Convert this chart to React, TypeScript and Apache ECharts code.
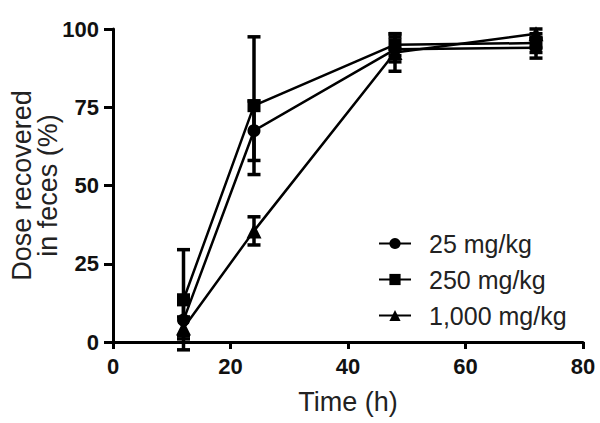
import React, { useEffect, useRef } from "react";
import * as echarts from "echarts";

const timesH = [12, 24, 48, 72];
const seriesNames = ["25 mg/kg", "250 mg/kg", "1,000 mg/kg"];
const dose25Mean = [7, 67.5, 93.5, 94];
const dose25Err = [5, 9.5, 4, 3.3];
const dose250Mean = [13.5, 75.5, 95, 95.5];
const dose250Err = [16, 22, 3.5, 3];
const dose1000Mean = [4.5, 35.5, 92.5, 98.5];
const dose1000Err = [3.5, 4.5, 6, 1.5];
const xTicks = [0, 20, 40, 60, 80];
const yTicks = [0, 25, 50, 75, 100];

const FONT = "'Liberation Sans', Arial, sans-serif";

export default function App() {
  const ref = useRef<HTMLDivElement>(null);
  useEffect(() => {
    if (!ref.current) return;
    const chart = echarts.init(ref.current, null, { renderer: "svg" });
    const means = [dose25Mean, dose250Mean, dose1000Mean];
    const errs = [dose25Err, dose250Err, dose1000Err];
    const symbols = ["circle", "rect", "triangle"];
    const symbolSizes = [13, 13, 15];

    const lineSeries = seriesNames.map((name, i) => ({
      name,
      type: "line",
      data: timesH.map((t, j) => [t, means[i][j]]),
      symbol: symbols[i],
      symbolSize: symbolSizes[i],
      lineStyle: { color: "#000", width: 2.5 },
      itemStyle: { color: "#000", borderColor: "#000", borderWidth: 0 },
      z: 3,
    }));

    const errData: number[][] = [];
    means.forEach((m, i) => {
      timesH.forEach((t, j) => {
        errData.push([t, m[j] - errs[i][j], m[j] + errs[i][j]]);
      });
    });

    const errSeries = {
      type: "custom",
      name: "err",
      data: errData,
      z: 4,
      renderItem: (params: any, api: any) => {
        const x = api.value(0);
        const lo = api.coord([x, api.value(1)]);
        const hi = api.coord([x, api.value(2)]);
        const w = 6.5;
        const style = { stroke: "#000", lineWidth: 3.5 };
        return {
          type: "group",
          children: [
            { type: "line", shape: { x1: lo[0], y1: lo[1], x2: hi[0], y2: hi[1] }, style },
            { type: "line", shape: { x1: lo[0] - w, y1: lo[1], x2: lo[0] + w, y2: lo[1] }, style },
            { type: "line", shape: { x1: hi[0] - w, y1: hi[1], x2: hi[0] + w, y2: hi[1] }, style },
          ],
        };
      },
    };

    chart.setOption({
      animation: false,
      backgroundColor: "#fff",
      grid: { left: 113, right: 17, top: 29, bottom: 81, containLabel: false, outerBoundsMode: "none" },
      legend: {
        data: seriesNames,
        orient: "vertical",
        left: 373,
        top: 226,
        itemWidth: 32,
        itemHeight: 14,
        itemGap: 11,
        textStyle: { fontFamily: FONT, fontSize: 25, color: "#222", padding: [0, 0, 0, 13] },
      },
      xAxis: {
        type: "value",
        min: xTicks[0],
        max: xTicks[xTicks.length - 1],
        interval: 20,
        name: "Time (h)",
        nameLocation: "middle",
        nameGap: 46,
        nameMoveOverlap: false,
        nameTextStyle: { fontFamily: FONT, fontSize: 27, color: "#222" },
        axisLine: { onZero: false, lineStyle: { color: "#000", width: 3 } },
        axisTick: { show: true, length: 7, lineStyle: { color: "#000", width: 3 } },
        axisLabel: { fontFamily: FONT, fontSize: 22, fontWeight: "bold", color: "#111", margin: 13 },
        splitLine: { show: false },
      },
      yAxis: {
        type: "value",
        min: yTicks[0],
        max: yTicks[yTicks.length - 1],
        interval: 25,
        name: "Dose recovered\nin feces (%)",
        nameLocation: "middle",
        nameGap: 52,
        nameMoveOverlap: false,
        nameRotate: 90,
        nameTextStyle: { fontFamily: FONT, fontSize: 27, color: "#222", lineHeight: 26 },
        axisLine: { onZero: false, lineStyle: { color: "#000", width: 3 } },
        axisTick: { show: true, length: 9, lineStyle: { color: "#000", width: 3 } },
        axisLabel: { fontFamily: FONT, fontSize: 22, fontWeight: "bold", color: "#111", margin: 14 },
        splitLine: { show: false },
      },
      series: [...lineSeries, errSeries],
    });
    return () => chart.dispose();
  }, []);
  return <div ref={ref} style={{ width: 600, height: 423, position: "absolute", left: 0, top: 0 }} />;
}
